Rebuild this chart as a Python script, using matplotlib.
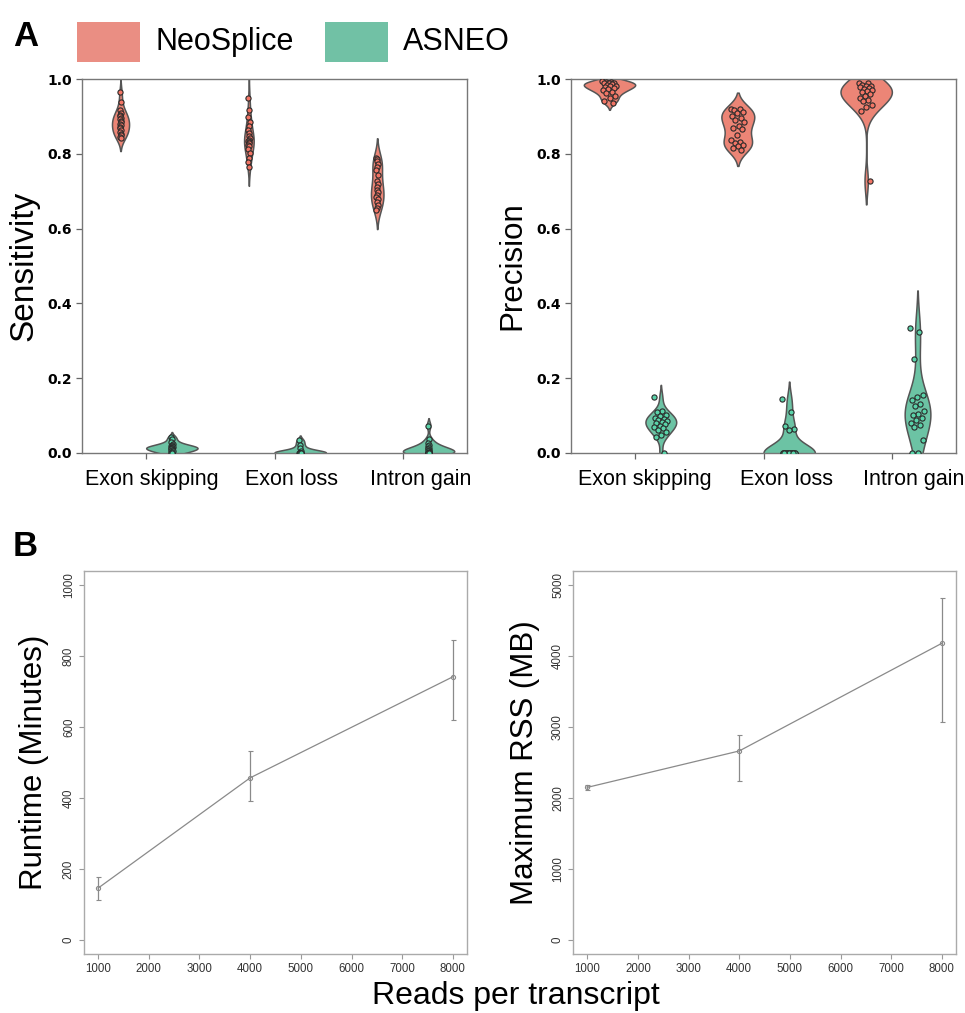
import numpy as np
import matplotlib
matplotlib.use("Agg")
import matplotlib.pyplot as plt
from matplotlib.patches import Rectangle
from matplotlib.transforms import ScaledTranslation

# ---------------- data ----------------
categories = ["Exon skipping", "Exon loss", "Intron gain"]
tools = ["NeoSplice", "ASNEO"]

sens_neo_skip = [0.964, 0.938, 0.918, 0.910, 0.905, 0.900, 0.896, 0.892, 0.888, 0.884,
                 0.880, 0.876, 0.872, 0.868, 0.864, 0.859, 0.854, 0.849, 0.845, 0.842]
sens_neo_loss = [0.950, 0.917, 0.898, 0.886, 0.873, 0.864, 0.855, 0.848, 0.841, 0.838,
                 0.835, 0.831, 0.828, 0.824, 0.821, 0.813, 0.801, 0.790, 0.777, 0.765]
sens_neo_gain = [0.790, 0.785, 0.780, 0.772, 0.765, 0.757, 0.742, 0.726, 0.720, 0.712,
                 0.703, 0.697, 0.690, 0.685, 0.680, 0.672, 0.662, 0.655, 0.650]
sens_as_skip = [0.043, 0.036, 0.028, 0.024, 0.021, 0.019, 0.017, 0.016, 0.015, 0.014,
                0.013, 0.012, 0.011, 0.010, 0.008, 0.006, 0.004, 0.002, 0.000, 0.000]
sens_as_loss = [0.033, 0.022, 0.012, 0.005, 0.0, 0.0, 0.0, 0.0, 0.0, 0.0, 0.0, 0.0]
sens_as_gain = [0.073, 0.037, 0.027, 0.021, 0.017, 0.014, 0.012, 0.010, 0.008, 0.006,
                0.004, 0.002, 0.0, 0.0, 0.0, 0.0, 0.0, 0.0, 0.0, 0.0]

prec_neo_skip = [0.995, 0.993, 0.992, 0.990, 0.990, 0.988, 0.986, 0.984, 0.982, 0.980,
                 0.978, 0.975, 0.972, 0.970, 0.966, 0.962, 0.955, 0.948, 0.942, 0.937]
prec_neo_loss = [0.921, 0.919, 0.917, 0.912, 0.908, 0.900, 0.895, 0.890, 0.886, 0.875,
                 0.868, 0.865, 0.850, 0.838, 0.832, 0.828, 0.824, 0.820, 0.815, 0.810]
prec_neo_gain = [0.990, 0.988, 0.985, 0.982, 0.980, 0.978, 0.975, 0.972, 0.970, 0.968,
                 0.965, 0.960, 0.955, 0.950, 0.945, 0.940, 0.930, 0.925, 0.915, 0.727]
prec_as_skip = [0.148, 0.112, 0.108, 0.102, 0.098, 0.093, 0.090, 0.088, 0.085, 0.082,
                0.079, 0.076, 0.073, 0.070, 0.066, 0.060, 0.055, 0.048, 0.042, 0.000]
prec_as_loss = [0.143, 0.110, 0.072, 0.065, 0.060, 0.0, 0.0, 0.0, 0.0, 0.0,
                0.0, 0.0, 0.0, 0.0, 0.0, 0.0, 0.0, 0.0, 0.0, 0.0]
prec_as_gain = [0.333, 0.322, 0.250, 0.155, 0.148, 0.140, 0.130, 0.125, 0.113, 0.105,
                0.100, 0.093, 0.088, 0.080, 0.075, 0.070, 0.035, 0.000, 0.000]

reads = [1000, 4000, 8000]
runtime_mean = [146, 457, 742]
runtime_low = [112, 393, 621]
runtime_high = [177, 533, 847]
rss_mean = [2150, 2664, 4183]
rss_low = [2120, 2240, 3068]
rss_high = [2180, 2894, 4819]

# ---------------- style ----------------
SANS = ["Liberation Sans", "DejaVu Sans"]
NEO_FILL, AS_FILL = "#EC8576", "#6CC3A4"
NEO_PT, AS_PT = "#F27565", "#5AD3A9"
NEO_LEG, AS_LEG = "#EA8E83", "#71C1A5"

fig = plt.figure(figsize=(9.65, 10.13), dpi=100)

ax1 = fig.add_axes([0.085, 0.553, 0.399, 0.369])
ax2 = fig.add_axes([0.5917, 0.553, 0.399, 0.369])
ax3 = fig.add_axes([0.087, 0.0582, 0.397, 0.378])
ax4 = fig.add_axes([0.5938, 0.0582, 0.397, 0.378])


def kde(vals):
    v = np.asarray(vals, float)
    n = len(v)
    bw = v.std(ddof=1) * n ** (-0.2)
    grid = np.linspace(v.min() - 2 * bw, v.max() + 2 * bw, 300)
    dens = np.exp(-0.5 * ((grid[:, None] - v[None, :]) / bw) ** 2).sum(1)
    dens /= n * bw * np.sqrt(2 * np.pi)
    return grid, dens


def violin_panel(ax, groups, jitter, ylabel, label_x, label_fs, label_dx):
    kd = {k: kde(v) for k, v in groups.items()}
    # densities scaled within each category (hue-nested scaling)
    peaks = {}
    for (ci, ti), (_, d) in kd.items():
        peaks[ci] = max(peaks.get(ci, 0), d.max())
    for (ci, ti), vals in groups.items():
        grid, dens = kd[(ci, ti)]
        x = ci + (-0.2 if ti == 0 else 0.2)
        half = dens / peaks[ci] * 0.2
        ax.fill_betweenx(grid, x - half, x + half,
                         facecolor=NEO_FILL if ti == 0 else AS_FILL,
                         edgecolor="#555555", linewidth=1.1, zorder=2)
        n = len(vals)
        offs = (((np.arange(n) * 0.618034) % 1.0) - 0.5) * 2 * jitter
        ax.scatter(x + offs, vals, s=14,
                   c=NEO_PT if ti == 0 else AS_PT,
                   edgecolors="#2a2a2a", linewidths=0.8, zorder=3)
    ax.set_xlim(-0.5, 2.5)
    ax.set_ylim(0, 1)
    ax.set_xticks(range(len(categories)))
    ax.set_xticklabels(categories, fontsize=15.5, family=SANS)
    yt = np.arange(0, 1.01, 0.2)
    ax.set_yticks(yt)
    ax.set_yticklabels([f"{t:.1f}" for t in yt], fontsize=10, fontweight="bold",
                       family="DejaVu Sans")
    ax.tick_params(axis="both", length=4, width=0.9, color="#666666")
    ax.tick_params(axis="x", pad=8)
    for s in ax.spines.values():
        s.set_color("#777777")
        s.set_linewidth(1.0)
    ax.set_ylabel(ylabel, fontsize=label_fs, family=SANS)
    ax.yaxis.set_label_coords(label_x, 0.5)
    # shift category labels sideways as in the source figure
    for tick, dx in zip(ax.xaxis.get_major_ticks(), label_dx):
        lab = tick.label1
        lab.set_transform(lab.get_transform() +
                          ScaledTranslation(dx / 100.0, 0, fig.dpi_scale_trans))


violin_panel(ax1, {
    (0, 0): sens_neo_skip, (0, 1): sens_as_skip,
    (1, 0): sens_neo_loss, (1, 1): sens_as_loss,
    (2, 0): sens_neo_gain, (2, 1): sens_as_gain,
}, 0.008, "Sensitivity", -0.11, 24, [6, 17, 18])

violin_panel(ax2, {
    (0, 0): prec_neo_skip, (0, 1): prec_as_skip,
    (1, 0): prec_neo_loss, (1, 1): prec_as_loss,
    (2, 0): prec_neo_gain, (2, 1): prec_as_gain,
}, 0.055, "Precision", -0.112, 22.5, [10, 23, 22])


def line_panel(ax, mean, low, high, ylim, yticks, ylabel, label_x, label_fs):
    mean = np.asarray(mean)
    yerr = [mean - np.asarray(low), np.asarray(high) - mean]
    ax.errorbar(reads, mean, yerr=yerr, color="#8a8a8a", linewidth=0.9,
                elinewidth=0.9, capsize=1.8, capthick=0.9, marker="o", markersize=3,
                markerfacecolor="none", markeredgewidth=0.8)
    ax.set_xlim(720, 8280)
    ax.set_ylim(*ylim)
    ax.set_xticks(np.arange(1000, 8001, 1000))
    ax.set_yticks(yticks)
    ax.set_yticklabels([str(t) for t in yticks], rotation=90, va="center")
    ax.tick_params(axis="both", length=3.5, width=0.8, color="#999999",
                   labelsize=8.3, labelcolor="#333333", pad=3)
    for lab in ax.get_xticklabels() + ax.get_yticklabels():
        lab.set_family(SANS)
    for s in ax.spines.values():
        s.set_color("#aaaaaa")
        s.set_linewidth(1.0)
    ax.set_ylabel(ylabel, fontsize=label_fs, family=SANS)
    ax.yaxis.set_label_coords(label_x, 0.5)


line_panel(ax3, runtime_mean, runtime_low, runtime_high, (-40, 1040),
           list(range(0, 1001, 200)), "Runtime (Minutes)", -0.09, 22.5)
line_panel(ax4, rss_mean, rss_low, rss_high, (-200, 5200),
           list(range(0, 5001, 1000)), "Maximum RSS (MB)", -0.085, 22.5)

fig.text(516 / 965, 1 - 996 / 1013, "Reads per transcript", fontsize=23,
         family=SANS, ha="center", va="center")

# panel letters
fig.text(13 / 965, 1 - 46 / 1013, "A", fontsize=25, fontweight="bold", family=SANS)
fig.text(13 / 965, 1 - 556 / 1013, "B", fontsize=25, fontweight="bold", family=SANS)

# legend
W, H = 965.0, 1013.0
for (x0, col, lab) in [(77, NEO_LEG, tools[0]), (325, AS_LEG, tools[1])]:
    fig.add_artist(Rectangle((x0 / W, 1 - 62 / H), 63 / W, 40 / H,
                             transform=fig.transFigure, facecolor=col,
                             edgecolor="none"))
    fig.text((x0 + 78) / W, 1 - 42 / H, lab, fontsize=22, family=SANS,
             ha="left", va="center")

fig.savefig("out.png", dpi=100)
